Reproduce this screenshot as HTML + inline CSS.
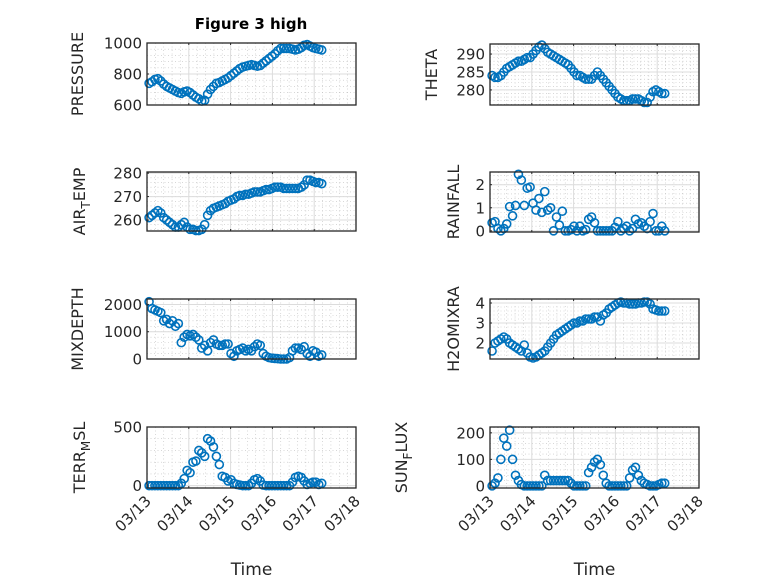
<!DOCTYPE html>
<html><head><meta charset="utf-8"><style>
html,body{margin:0;padding:0;background:#fff}
svg{display:block;font-family:"DejaVu Sans","Liberation Sans",sans-serif}
</style></head><body>
<svg id="fig" width="778" height="583" viewBox="0 0 778 583">
<text x="251" y="29" text-anchor="middle" font-size="15" font-weight="bold" fill="#000">Figure 3 high</text>
</svg>
<script>
// categories: time in days after 03/13 00:00
const times = [];
for (let i = 0; i < 60; i++) times.push(0.05 + 0.07 * i);
const xTickLabels = ['03/13','03/14','03/15','03/16','03/17','03/18'];

const pressure = [740,750,765,770,755,735,720,710,700,690,680,675,685,690,680,665,650,640,625,630,670,700,720,740,745,755,765,775,790,805,820,835,845,850,855,860,855,850,855,870,885,900,915,930,950,965,965,965,965,960,955,960,970,985,990,980,970,965,960,955];
const airTemp = [261,262,263,264,263,261,260,259,258,257,257,258,259,257,256,256,255.5,255.5,256,258,262,264,265,265.5,266,266.5,267,268,268.5,269,270,270.5,270.5,271,271,271.5,272,272,272,272.5,273,273,273.5,274,274,274,273.5,273.5,273.5,273.5,273.5,273.5,274,275,277,277,276.5,276,276,275.5];
const mixDepth = [2100,1850,1800,1750,1700,1400,1450,1300,1400,1200,1300,600,800,900,850,900,800,700,400,500,300,600,700,550,500,500,550,550,200,100,300,350,400,300,350,300,450,550,500,200,100,50,30,20,10,0,0,0,50,300,400,400,350,450,200,100,300,250,100,150];
const terrMsl = [0,0,0,0,0,0,0,0,0,0,0,20,60,130,110,200,210,300,280,250,400,380,330,250,180,80,70,40,50,20,10,5,0,0,0,20,50,60,40,5,0,0,0,0,0,0,0,0,0,30,70,80,70,40,10,20,30,30,10,20];
const theta = [284,283.5,283.5,284,285,286,286.5,287,287.5,288,288,288.5,289,289,290,291,292,292.5,291.5,290.5,290,289.5,289,288.5,288,287.5,287,286,285,284,284,283.5,283,283,283,284,285,284,283,282,281,280,279,278,277.5,277,277,277,277.5,277.5,277.5,277,276.5,276.5,278,279.5,280,279.5,279,279];
const rainfall = [0.35,0.4,0.1,0,0.1,0.3,1.05,0.65,1.1,2.45,2.2,1.1,1.85,1.9,1.2,0.9,1.4,0.8,1.7,0.9,1.0,0,0.6,0.25,0.85,0,0,0.05,0.2,0,0.2,0,0.05,0.5,0.6,0.35,0,0,0,0,0,0,0.15,0.4,0,0.1,0.2,0,0.1,0.5,0.3,0.35,0.2,0.1,0.4,0.75,0,0,0.2,0];
const h2oMix = [1.6,2.0,2.1,2.2,2.3,2.2,2.0,1.9,1.8,1.7,1.6,1.9,1.5,1.3,1.25,1.3,1.4,1.5,1.6,1.8,2.0,2.2,2.4,2.5,2.6,2.7,2.8,2.9,3.0,3.0,3.1,3.1,3.2,3.2,3.2,3.3,3.3,3.1,3.4,3.5,3.7,3.8,3.9,4.0,4.05,4.0,4.0,3.95,3.95,3.95,4.0,4.0,4.05,4.05,3.95,3.7,3.65,3.6,3.6,3.6];
const sunFlux = [0,10,30,100,180,150,210,100,40,20,5,0,0,0,0,0,0,0,40,20,20,20,20,20,20,20,20,10,0,0,0,0,0,50,70,90,100,80,40,10,0,0,0,0,0,0,0,30,60,70,40,20,10,5,0,0,0,5,10,10];

const ticksPressure = [600,800,1000];
const ticksAir = [260,270,280];
const ticksMix = [0,1000,2000];
const ticksTerr = [0,500];
const ticksTheta = [280,285,290];
const ticksRain = [0,1,2];
const ticksH2o = [2,3,4];
const ticksSun = [0,100,200];

const NS = 'http://www.w3.org/2000/svg';
const svg = document.getElementById('fig');
function mk(tag, attrs, parent) {
  const e = document.createElementNS(NS, tag);
  for (const k in attrs) e.setAttribute(k, attrs[k]);
  (parent || svg).appendChild(e);
  return e;
}

const panels = [
  {name:'pressure', vals:pressure, ticks:ticksPressure, ylim:[600,1000], box:[147,43,209,62], label:['PRESSURE'], lx:83},
  {name:'air-temp', vals:airTemp, ticks:ticksAir, ylim:[255.3,280.5], box:[147,172,209,59], label:['AIR','T','EMP'], lx:85},
  {name:'mixdepth', vals:mixDepth, ticks:ticksMix, ylim:[0,2200], box:[147,299,209,60], label:['MIXDEPTH'], lx:83},
  {name:'terr-msl', vals:terrMsl, ticks:ticksTerr, ylim:[-20,500], box:[147,427,209,61], label:['TERR','M','SL'], lx:85, xt:true},
  {name:'theta', vals:theta, ticks:ticksTheta, ylim:[275.8,292.8], box:[490,44,209,61], label:['THETA'], lx:437},
  {name:'rainfall', vals:rainfall, ticks:ticksRain, ylim:[-0.05,2.55], box:[490,172,209,60], label:['RAINFALL'], lx:459},
  {name:'h2omixra', vals:h2oMix, ticks:ticksH2o, ylim:[1.2,4.2], box:[490,299,209,60], label:['H2OMIXRA'], lx:459},
  {name:'sun-flux', vals:sunFlux, ticks:ticksSun, ylim:[-8,222], box:[490,427,209,61], label:['SUN','F','LUX'], lx:407, xt:true}
];

panels.forEach(p => {
  const [L,T,W,H] = p.box;
  const g = mk('g', {});
  
  
  const xS = d => L + d / 5 * W;
  const yS = v => T + H - (v - p.ylim[0]) / (p.ylim[1] - p.ylim[0]) * H;
  mk('rect', {x:L, y:T, width:W, height:H, fill:'#fff'}, g);
  for (let d = 0; d < 5; d += 0.2) {
    if (Math.abs(d - Math.round(d)) < 1e-6) continue;
    mk('line', {x1:xS(d), x2:xS(d), y1:T, y2:T+H, stroke:'#c0c0c0', 'stroke-width':0.6, 'stroke-dasharray':'1,2.5'}, g);
  }
  const step = p.ticks[1] - p.ticks[0];
  for (let v = p.ticks[0] - step; v <= p.ylim[1]; v += step / 5) {
    if (v < p.ylim[0]) continue;
    mk('line', {x1:L, x2:L+W, y1:yS(v), y2:yS(v), stroke:'#c0c0c0', 'stroke-width':0.6, 'stroke-dasharray':'1,2.5'}, g);
  }
  for (let d = 1; d < 5; d++) mk('line', {x1:xS(d), x2:xS(d), y1:T, y2:T+H, stroke:'#dcdcdc', 'stroke-width':1}, g);
  p.ticks.forEach(v => {
    mk('line', {x1:L, x2:L+W, y1:yS(v), y2:yS(v), stroke:'#dcdcdc', 'stroke-width':1}, g);
    const t = mk('text', {x:L-5, y:yS(v)+5.5, 'text-anchor':'end', 'font-size':15, fill:'#262626'}, g);
    t.textContent = v;
    
    
    mk('line', {x1:L, x2:L+2, y1:yS(v), y2:yS(v), stroke:'#262626'}, g);
  });
  for (let d = 0; d <= 5; d++) {
    mk('line', {x1:xS(d), x2:xS(d), y1:T+H, y2:T+H-2, stroke:'#262626'}, g);
    mk('line', {x1:xS(d), x2:xS(d), y1:T, y2:T+2, stroke:'#262626'}, g);
  }
  const sg = mk('g', {fill:'none', stroke:'#0072BD', 'stroke-width':1.6}, g);
  
  
  p.vals.forEach((v, i) => {
    const c = mk('circle', {cx:xS(times[i]), cy:yS(v), r:4}, sg);
    
    
  });
  mk('rect', {x:L, y:T, width:W, height:H, fill:'none', stroke:'#262626', 'stroke-width':1.3}, g);
  const yl = mk('text', {x:p.lx, y:T+H/2, transform:`rotate(-90 ${p.lx} ${T+H/2})`, 'text-anchor':'middle', 'font-size':16, fill:'#262626'}, g);
  
  
  if (p.label.length === 1) yl.textContent = p.label[0];
  else {
    const a = mk('tspan', {}, yl); a.textContent = p.label[0];
    const b = mk('tspan', {dy:5, 'font-size':12}, yl); b.textContent = p.label[1];
    const c = mk('tspan', {dy:-5}, yl); c.textContent = p.label[2];
  }
  if (p.xt) {
    xTickLabels.forEach((lab, d) => {
      const x = xS(d) + 5, y = T + H + 14;
      const t = mk('text', {x:x, y:y, transform:`rotate(-45 ${x} ${y})`, 'text-anchor':'end', 'font-size':15, fill:'#262626'}, g);
      t.textContent = lab;
      
      
    });
    const xl = mk('text', {x:L+W/2, y:575, 'text-anchor':'middle', 'font-size':17, fill:'#262626'}, g);
    xl.textContent = 'Time';
    
    
  }
});
</script>
</body></html>
